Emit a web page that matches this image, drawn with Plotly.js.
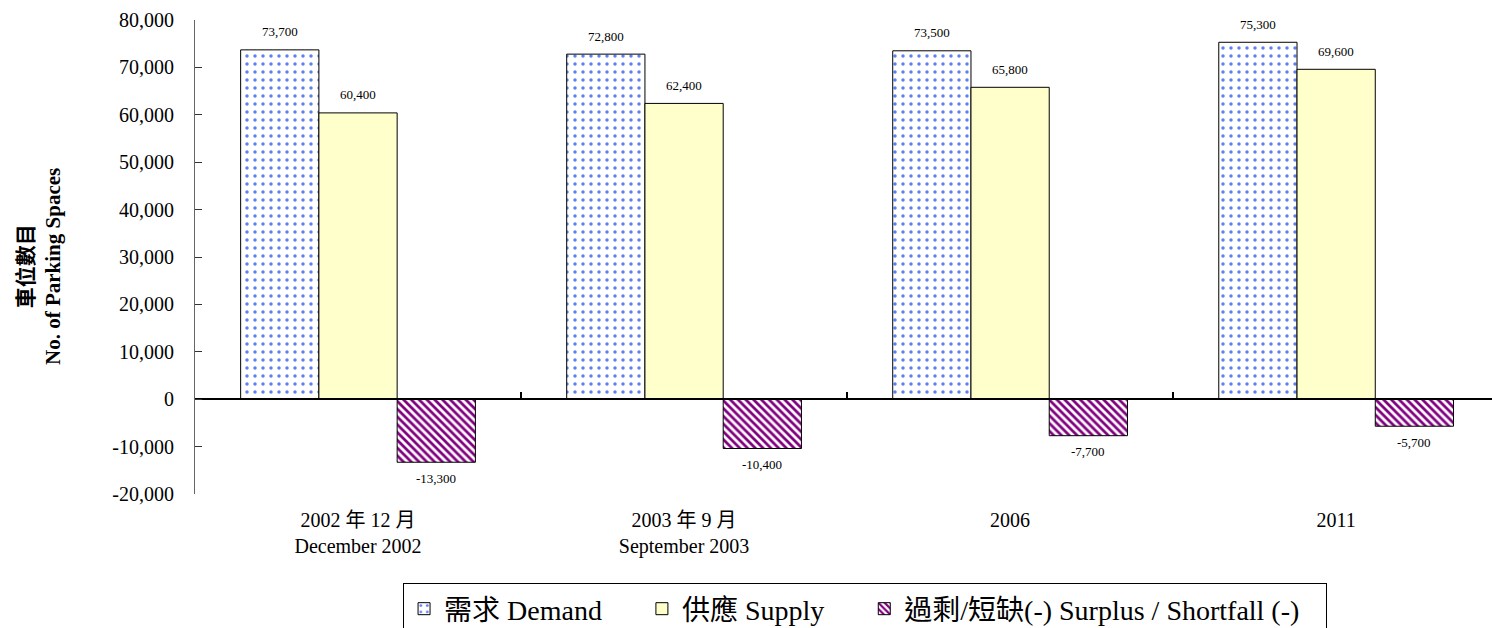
<!DOCTYPE html>
<html>
<head>
<meta charset="utf-8">
<script src="https://cdn.plot.ly/plotly-3.0.1.min.js"></script>
<style>html,body{margin:0;padding:0;background:#fff;overflow:hidden}</style>
</head>
<body>
<div id="chart" style="width:1492px;height:628px"></div>
<script>
const categories = ["2002 年 12 月<br>December 2002", "2003 年 9 月<br>September 2003", "2006", "2011"];
const demand = [73700, 72800, 73500, 75300];
const supply = [60400, 62400, 65800, 69600];
const surplus = [-13300, -10400, -7700, -5700];
const seriesNames = ["需求 Demand", "供應 Supply", "過剩/短缺(-) Surplus / Shortfall (-)"];
const yTickVals = [-20000, -10000, 0, 10000, 20000, 30000, 40000, 50000, 60000, 70000, 80000];
const yTickText = ["-20,000", "-10,000", "0", "10,000", "20,000", "30,000", "40,000", "50,000", "60,000", "70,000", "80,000"];
const yTitle = "車位數目<br>No. of Parking Spaces";

const FONT = "'Liberation Serif', 'Times New Roman', 'Noto Sans CJK TC', serif";
const fmt = v => (v < 0 ? "-" : "") + Math.abs(v).toLocaleString("en-US");
const pad = "\u00a0\u00a0\u00a0\u00a0\u00a0";
const endPad = "\u00a0\u00a0\u00a0";

const line = {color: "#000", width: 1};
const traces = [
  {type: "bar", name: seriesNames[0] + pad, x: categories, y: demand,
   marker: {color: "#ffffff", line: line,
            pattern: {shape: ".", fgcolor: "#5f80f0", bgcolor: "#ffffff", size: 8, solidity: 0.15, fillmode: "replace"}}},
  {type: "bar", name: seriesNames[1] + pad, x: categories, y: supply,
   marker: {color: "#ffffcc", line: line}},
  {type: "bar", name: seriesNames[2] + endPad, x: categories, y: surplus,
   marker: {color: "#800080", line: line,
            pattern: {shape: "\\", fgcolor: "#800080", bgcolor: "#ffffff", size: 5.5, solidity: 0.5, fillmode: "replace"}}},
  {type: "scatter", x: [], y: [], xaxis: "x2", showlegend: false, hoverinfo: "skip"}
];

const series = [demand, supply, surplus];
const annotations = [];
series.forEach((vals, j) => {
  vals.forEach((v, i) => {
    annotations.push({
      xref: "x", yref: "y", x: i + (j - 1) * 0.24, y: v,
      text: fmt(v), showarrow: false,
      yshift: v >= 0 ? 18 : -16,
      font: {family: FONT, size: 13, color: "#000"}
    });
  });
});
annotations.push({
  xref: "paper", yref: "paper", x: -0.1195, y: 0.479, xanchor: "center", yanchor: "middle",
  text: yTitle, textangle: -90, showarrow: false,
  font: {family: FONT, size: 21, weight: "bold", color: "#000"}
});

const xr = [-0.5, 3.478];
const layout = {
  width: 1492, height: 628,
  margin: {l: 195, r: 0, t: 20, b: 134},
  paper_bgcolor: "#fff", plot_bgcolor: "#fff",
  font: {family: FONT, size: 20, color: "#000"},
  barmode: "group", bargap: 0.28, bargroupgap: 0,
  showlegend: true,
  xaxis: {type: "category", range: xr, showline: false, ticks: "", showgrid: false, zeroline: false,
          tickfont: {family: FONT, size: 20}, ticklabelstandoff: 12, fixedrange: true},
  xaxis2: {overlaying: "x", anchor: "free", position: 0.2, range: xr, showticklabels: false,
           tickvals: [0.5, 1.5, 2.5], ticks: "inside", ticklen: 6, tickwidth: 2, tickcolor: "#000",
           showline: true, linewidth: 2, linecolor: "#000", showgrid: false, zeroline: false},
  yaxis: {range: [-20000, 80000], tickvals: yTickVals, ticktext: yTickText,
          showline: true, linecolor: "#666", linewidth: 1,
          ticks: "inside", ticklen: 7, tickcolor: "#333", tickwidth: 1,
          showgrid: false, zeroline: false, ticklabelstandoff: 16,
          tickfont: {family: FONT, size: 20}},
  legend: {orientation: "h", xref: "container", yref: "container", x: 0.5798, xanchor: "center",
           y: 0.0717, yanchor: "top", bordercolor: "#000", borderwidth: 1, bgcolor: "#fff",
           font: {family: FONT, size: 28}, traceorder: "normal"},
  annotations: annotations
};

Plotly.newPlot("chart", traces, layout, {displayModeBar: false, staticPlot: true});
</script>
</body>
</html>
